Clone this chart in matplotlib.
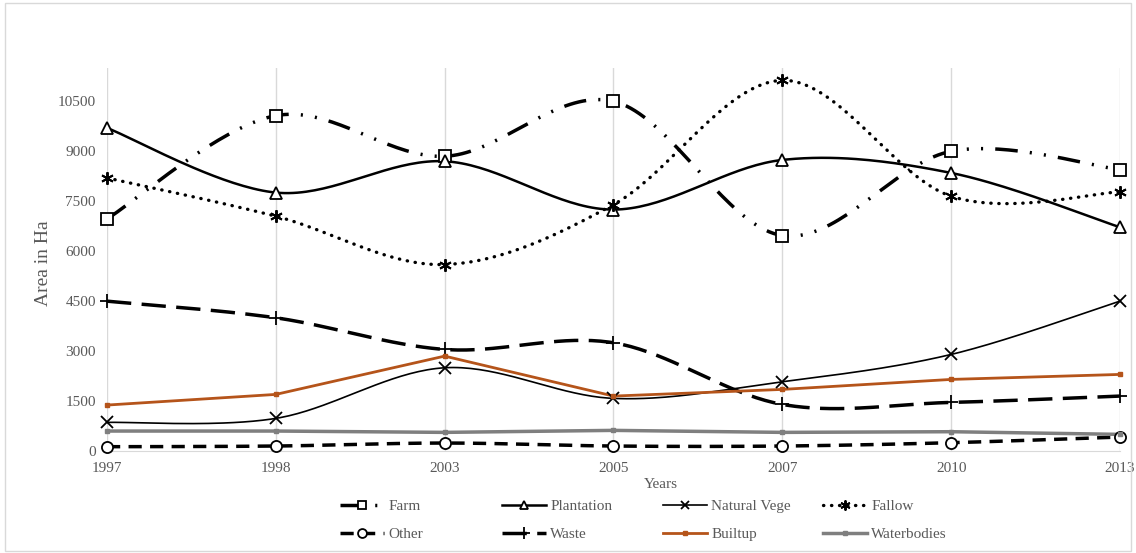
import numpy as np
import matplotlib
matplotlib.use("Agg")
from matplotlib import pyplot as plt
from matplotlib.lines import Line2D
from matplotlib.patches import Rectangle

years = ["1997", "1998", "2003", "2005", "2007", "2010", "2013"]

farm = [6970, 10070, 8850, 10500, 6470, 9000, 8450]
plantation = [9700, 7760, 8700, 7250, 8740, 8350, 6720]
natural_vege = [860, 980, 2500, 1580, 2080, 2900, 4500]
fallow = [8200, 7050, 5600, 7400, 11130, 7650, 7780]
other = [130, 150, 240, 150, 150, 250, 420]
waste = [4500, 4000, 3050, 3250, 1400, 1460, 1650]
builtup = [1380, 1700, 2850, 1650, 1850, 2150, 2300]
waterbodies = [600, 600, 560, 620, 560, 580, 500]

plt.rcParams['font.family'] = ['Liberation Serif', 'DejaVu Serif']


# Excel-like smoothed line (cubic bezier through the points)
def smooth(xs, ys, n=40):
    xs = np.asarray(xs, float)
    ys = np.asarray(ys, float)
    px = np.concatenate([[xs[0]], xs, [xs[-1]]])
    py = np.concatenate([[ys[0]], ys, [ys[-1]]])
    outx, outy = [], []
    t = np.linspace(0, 1, n)
    for i in range(1, len(px) - 2):
        p0 = np.array([px[i], py[i]])
        p3 = np.array([px[i + 1], py[i + 1]])
        c1 = p0 + (np.array([px[i + 1], py[i + 1]]) - np.array([px[i - 1], py[i - 1]])) / 6
        c2 = p3 - (np.array([px[i + 2], py[i + 2]]) - np.array([px[i], py[i]])) / 6
        b = ((1 - t) ** 3)[:, None] * p0 + (3 * (1 - t) ** 2 * t)[:, None] * c1 \
            + (3 * (1 - t) * t ** 2)[:, None] * c2 + (t ** 3)[:, None] * p3
        outx.extend(b[:, 0])
        outy.extend(b[:, 1])
    return outx, outy


fig = plt.figure(figsize=(11.36, 5.53), dpi=100)
fig.patches.append(Rectangle((0.004, 0.004), 0.992, 0.99, transform=fig.transFigure,
                             fill=False, edgecolor='#d9d9d9', linewidth=1))
ax = fig.add_axes([0.0942, 0.1844, 0.8917, 0.6926])

x = np.arange(len(years))

series = [
    # name, data, smooth, color, lw, dashes, capstyle, marker, msize, mew
    ("Farm", farm, True, 'black', 2.5, (6.5, 3.5, 0.6, 3.5, 0.6, 3.5), 'butt', 's', 8, 1.3),
    ("Plantation", plantation, True, 'black', 1.8, None, 'butt', '^', 8, 1.3),
    ("Natural Vege", natural_vege, True, 'black', 1.2, None, 'butt', 'x', 8, 1.3),
    ("Fallow", fallow, True, 'black', 2.4, (0.1, 2.3), 'round', (6, 2, 0), 9, 1.4),
    ("Other", other, True, 'black', 2.5, (3.8, 2.4), 'butt', 'o', 8, 1.3),
    ("Waste", waste, True, 'black', 2.5, (7, 3), 'butt', '+', 10, 1.3),
    ("Builtup", builtup, False, '#b5541a', 2.0, None, 'butt', 's', 3.5, 1.0),
    ("Waterbodies", waterbodies, False, '#7f7f7f', 2.5, None, 'butt', 's', 3.5, 1.0),
]

handles = {}
for name, data, sm, col, lw, dashes, cap, mk, ms, mew in series:
    if sm:
        sx, sy = smooth(x, data)
    else:
        sx, sy = x, data
    line, = ax.plot(sx, sy, color=col, linewidth=lw, solid_capstyle='butt',
                    dash_capstyle=cap, clip_on=False)
    if dashes is not None:
        line.set_dashes(dashes)
    filled = mk == 's' and ms < 5
    ax.plot(x, data, linestyle='none', marker=mk, markersize=ms,
            markerfacecolor=col if filled else 'white', markeredgecolor=col,
            markeredgewidth=mew, zorder=4, clip_on=False)
    h = Line2D([], [], color=col, linewidth=lw, marker=mk, markersize=ms * 0.8,
               markerfacecolor=col if filled else 'white', markeredgecolor=col,
               markeredgewidth=mew, dash_capstyle=cap)
    if dashes is not None:
        h.set_dashes(dashes)
    handles[name] = h

ax.set_xlim(0, len(years) - 1)
ax.set_ylim(0, 11500)
ax.set_yticks(np.arange(0, 10501, 1500))
ax.set_xticks(x)
ax.set_xticklabels(years)
ax.tick_params(axis='both', length=0, labelsize=11, labelcolor='#595959')
ax.tick_params(axis='x', pad=8)
ax.tick_params(axis='y', pad=8)
ax.grid(axis='x', color='#d9d9d9', linewidth=1)
ax.set_axisbelow(True)
for s in ['top', 'right', 'left']:
    ax.spines[s].set_visible(False)
ax.spines['bottom'].set_color('#d9d9d9')

ax.set_ylabel("Area in Ha", fontsize=14, color='#595959', labelpad=2)
ax.yaxis.set_label_coords(-0.054, 0.49)
fig.text(661 / 1136, 1 - 484 / 553, "Years", ha='center', va='center',
         fontsize=11, color='#595959')

# one legend per column so the columns are evenly spaced
columns = [("Farm", "Other"), ("Plantation", "Waste"),
           ("Natural Vege", "Builtup"), ("Fallow", "Waterbodies")]
col_x = [340, 502, 663, 823]
for names, cx in zip(columns, col_x):
    leg = fig.legend([handles[n] for n in names], names, loc='center left',
                     bbox_to_anchor=(cx / 1136, 1 - 520.5 / 553), frameon=False,
                     fontsize=11, handlelength=2.9, handletextpad=0.25,
                     labelspacing=0.95, borderpad=0, borderaxespad=0)
    for t in leg.get_texts():
        t.set_color('#595959')

fig.savefig("out.png", dpi=100)
